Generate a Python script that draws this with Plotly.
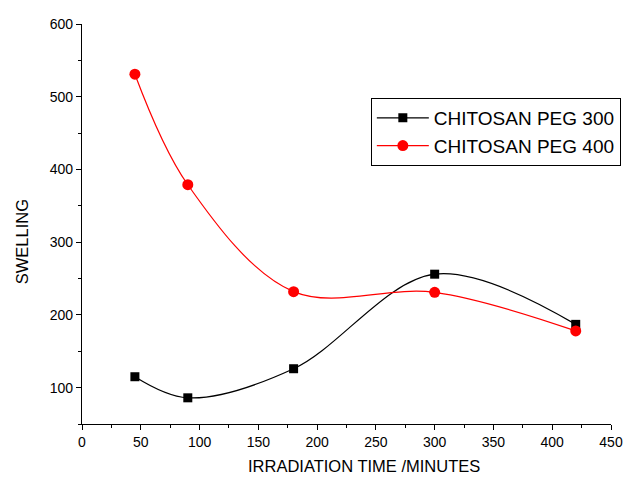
import plotly.graph_objects as go

time_min = [45, 90, 180, 300, 420]
peg300 = [115, 86, 126, 256, 187]
peg400 = [531, 379, 232, 231, 178]

x_title = "IRRADIATION TIME /MINUTES"
y_title = "SWELLING"

font_family = "Liberation Sans, Arial, sans-serif"

fig = go.Figure()
fig.add_trace(go.Scatter(
    x=time_min, y=peg300, name="CHITOSAN PEG 300",
    mode="lines+markers",
    line=dict(color="black", width=1.2, shape="spline", smoothing=1.0),
    marker=dict(symbol="square", size=9, color="black"),
))
fig.add_trace(go.Scatter(
    x=time_min, y=peg400, name="CHITOSAN PEG 400",
    mode="lines+markers",
    line=dict(color="red", width=1.2, shape="spline", smoothing=1.0),
    marker=dict(symbol="circle", size=11, color="red"),
))

fig.update_layout(
    width=627, height=477,
    margin=dict(l=82, r=16, t=24, b=53, autoexpand=False),
    paper_bgcolor="white", plot_bgcolor="white",
    font=dict(family=font_family, size=14, color="black"),
    showlegend=True,
    legend=dict(
        x=0.546, y=0.815, xanchor="left", yanchor="top",
        bordercolor="black", borderwidth=1, bgcolor="white",
        font=dict(size=19, family=font_family),
        itemwidth=52, tracegroupgap=0,
    ),
    xaxis=dict(
        range=[0, 450], tick0=0, dtick=50, automargin=False,
        showline=True, linecolor="black", linewidth=1.2,
        ticks="outside", ticklen=5, tickcolor="black", tickwidth=1,
        minor=dict(ticks="outside", ticklen=3, dtick=25, tickcolor="black"),
        showgrid=False, zeroline=False,
    ),
    yaxis=dict(
        range=[50, 600], tick0=0, dtick=100, automargin=False,
        showline=True, linecolor="black", linewidth=1.2,
        ticks="outside", ticklen=5, tickcolor="black", tickwidth=1,
        minor=dict(ticks="outside", ticklen=3, dtick=50, tickcolor="black"),
        showgrid=False, zeroline=False,
    ),
    annotations=[
        dict(text=x_title, xref="paper", yref="paper", x=0.533, y=-0.105,
             xanchor="center", yanchor="middle", showarrow=False,
             font=dict(size=16.5, family=font_family)),
        dict(text=y_title, xref="paper", yref="paper", x=-0.113, y=0.455,
             xanchor="center", yanchor="middle", showarrow=False, textangle=-90,
             font=dict(size=16.5, family=font_family)),
    ],
)

fig.write_html("out.html")
